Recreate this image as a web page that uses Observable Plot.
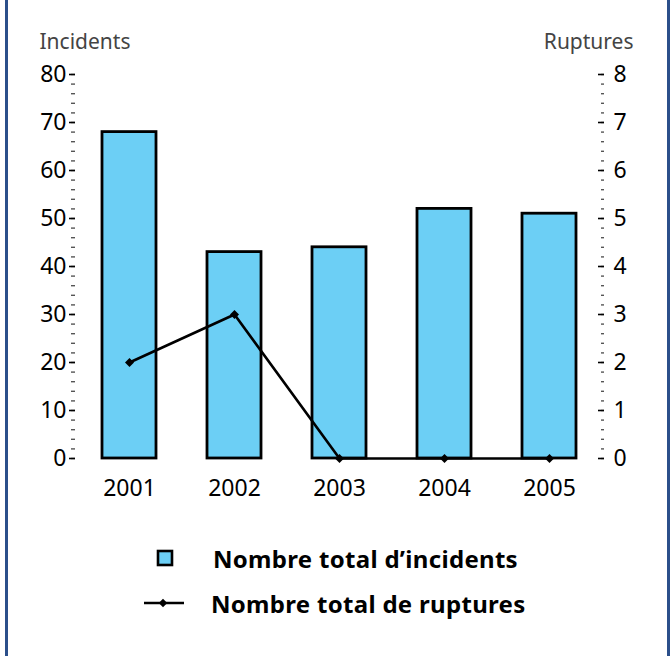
<!DOCTYPE html>
<html>
<head>
<meta charset="utf-8">
<script src="https://cdn.jsdelivr.net/npm/d3@7"></script>
<script src="https://cdn.jsdelivr.net/npm/@observablehq/plot@0.6"></script>
<style>
  html, body { margin: 0; padding: 0; background: #fff; }
  #frame { position: relative; width: 671px; height: 656px; overflow: hidden; font-family: "Noto Sans", sans-serif; }
  .edge { position: absolute; top: 0; bottom: 0; width: 3px; background: #2b4f8a; }
  #legend { position: absolute; left: 0; top: 530px; width: 671px; }
  .row { position: absolute; left: 0; height: 30px; display: flex; align-items: center; }
  .row svg { position: absolute; left: 140px; top: 0; }
  .row span { position: absolute; white-space: nowrap; font-weight: 700; font-size: 24px; letter-spacing: 0.3px; color: #000; }
</style>
</head>
<body>
<div id="frame">
  <div class="edge" style="left:5px"></div>
  <div class="edge" style="left:667px"></div>
  <div id="chart"></div>
  <div id="legend"></div>
</div>
<script>
// Annual counts of pipeline incidents (left axis) and ruptures (right axis)
const years = ["2001", "2002", "2003", "2004", "2005"];
const incidents = [68, 43, 44, 52, 51];
const ruptures = [2, 3, 0, 0, 0];
const incidentTicks = [0, 10, 20, 30, 40, 50, 60, 70, 80];
const ruptureTicks = [0, 1, 2, 3, 4, 5, 6, 7, 8];
const legendLabels = ["Nombre total d\u2019incidents", "Nombre total de ruptures"];

// Ruptures share the incidents scale: 1 rupture = 10 incidents on screen
const ratio = incidentTicks[incidentTicks.length - 1] / ruptureTicks[ruptureTicks.length - 1];

const rows = years.map((year, i) => ({year, incidents: incidents[i], ruptures: ruptures[i]}));
const minorTicks = d3.range(incidentTicks[0], incidentTicks[incidentTicks.length - 1] + 1, 2);

const barFill = "#6ccff5";
const fontFamily = "'Noto Sans', sans-serif";

const chart = Plot.plot({
  width: 671,
  height: 520,
  marginLeft: 75,
  marginRight: 68,
  marginTop: 74,
  marginBottom: 62,
  style: {fontFamily, background: "transparent", overflow: "visible"},
  x: {domain: years, paddingInner: 0.49, paddingOuter: 0.245, axis: null},
  y: {domain: [0, 80], axis: null},
  marks: [
    Plot.barY(rows, {x: "year", y: "incidents", fill: barFill, stroke: "#000", strokeWidth: 2.8}),
    // left axis: minor and major ticks, then labels
    Plot.axisY({anchor: "left", ticks: minorTicks, tickSize: 4, fill: "none", label: null, stroke: "#555", strokeWidth: 1.4}),
    Plot.axisY({anchor: "left", ticks: incidentTicks, tickSize: 6, tickPadding: 3, stroke: "#000", strokeWidth: 1.6,
      fontSize: 23, fill: "#000", label: null}),
    // right axis: ticks point inward from the frame edge
    Plot.axisY({anchor: "right", ticks: minorTicks, tickSize: 3, dx: -3, fill: "none", label: null, stroke: "#555", strokeWidth: 1.4}),
    Plot.axisY({anchor: "right", ticks: incidentTicks, tickSize: 6, dx: -6, fill: "none", label: null, stroke: "#000", strokeWidth: 1.6}),
    Plot.axisY({anchor: "right", ticks: incidentTicks, tickSize: 0, tickPadding: 10, tickFormat: d => String(d / ratio),
      fontSize: 23, fill: "#000", label: null}),
    Plot.axisX({anchor: "bottom", tickSize: 0, tickPadding: 21, fontSize: 23, fill: "#000", label: null}),
    Plot.line(rows, {x: "year", y: d => d.ruptures * ratio, stroke: "#000", strokeWidth: 2.6}),
    Plot.dot(rows, {x: "year", y: d => d.ruptures * ratio, symbol: "square", rotate: 45, r: 3.6, fill: "#000"}),
    Plot.text(["Incidents"], {frameAnchor: "top-left", dx: -36, dy: -40, textAnchor: "start", fontSize: 21, fill: "#444"}),
    Plot.text(["Ruptures"], {frameAnchor: "top-right", dx: 30, dy: -40, textAnchor: "end", fontSize: 21, fill: "#444"})
  ]
});
document.getElementById("chart").appendChild(chart);

// Legend below the chart
const legend = d3.select("#legend");
const r1 = legend.append("div").attr("class", "row").style("top", "13px");
const s1 = r1.append("svg").attr("width", 50).attr("height", 30);
s1.append("rect").attr("x", 18).attr("y", 8).attr("width", 14).attr("height", 14)
  .attr("fill", barFill).attr("stroke", "#000").attr("stroke-width", 2.6);
r1.append("span").style("left", "213px").text(legendLabels[0]);

const r2 = legend.append("div").attr("class", "row").style("top", "58px");
const s2 = r2.append("svg").attr("width", 50).attr("height", 30);
s2.append("line").attr("x1", 4).attr("x2", 44).attr("y1", 15).attr("y2", 15).attr("stroke", "#000").attr("stroke-width", 2.6);
s2.append("path").attr("d", d3.symbol(d3.symbolSquare, 36)()).attr("transform", "translate(23,15) rotate(45)").attr("fill", "#000");
r2.append("span").style("left", "211px").text(legendLabels[1]);
</script>
</body>
</html>
